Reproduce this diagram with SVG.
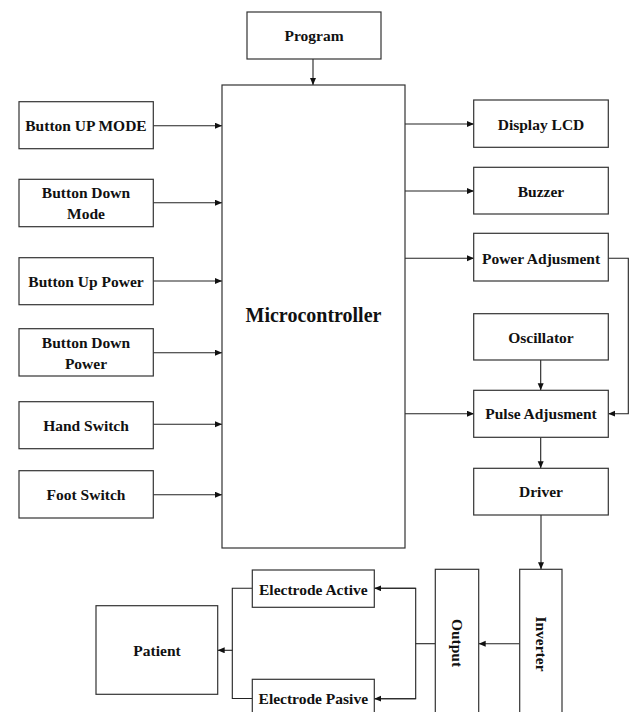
<svg xmlns="http://www.w3.org/2000/svg" width="632" height="712" viewBox="0 0 632 712">
<defs>
<marker id="ah" markerUnits="userSpaceOnUse" markerWidth="8" markerHeight="8" refX="7" refY="3" orient="auto">
<path d="M0,0 L7,3 L0,6 z" fill="#111"/>
</marker>
<style>
rect{fill:#fff;stroke:#333;stroke-width:1.2}
text{font-family:"Liberation Serif","Times New Roman",serif;font-weight:bold;font-size:15.5px;fill:#111;text-anchor:middle}
.big{font-size:20px}
#connectors path,#connectors line{fill:none;stroke:#222;stroke-width:1.1}
.a{marker-end:url(#ah)}
</style>
</defs>
<rect x="0" y="0" width="632" height="712" style="fill:#fff;stroke:none"/>
<g id="connectors">
<line class="a" x1="313" y1="59" x2="313" y2="85"/>
<line class="a" x1="153" y1="125.7" x2="222" y2="125.7"/>
<line class="a" x1="153" y1="202.7" x2="222" y2="202.7"/>
<line class="a" x1="153" y1="281" x2="222" y2="281"/>
<line class="a" x1="153" y1="352.7" x2="222" y2="352.7"/>
<line class="a" x1="153" y1="424.3" x2="222" y2="424.3"/>
<line class="a" x1="153" y1="494.7" x2="222" y2="494.7"/>
<line class="a" x1="405" y1="124" x2="474" y2="124"/>
<line class="a" x1="405" y1="191" x2="474" y2="191"/>
<line class="a" x1="405" y1="258.3" x2="474" y2="258.3"/>
<line class="a" x1="405" y1="413.7" x2="474" y2="413.7"/>
<path class="a" d="M608.3,258.3 H628.3 V413.7 H608.3"/>
<line class="a" x1="540.7" y1="360" x2="540.7" y2="390.3"/>
<line class="a" x1="540.7" y1="437.3" x2="540.7" y2="468.3"/>
<line class="a" x1="541" y1="515" x2="541" y2="569.3"/>
<line class="a" x1="519.5" y1="643.7" x2="478.7" y2="643.7"/>
<line x1="435.3" y1="643.7" x2="415.7" y2="643.7"/>
<path d="M374.3,588.3 H415.7 V698.7 H374.3"/>
<line class="a" x1="415.7" y1="588.3" x2="374.3" y2="588.3"/>
<line class="a" x1="415.7" y1="698.7" x2="374.3" y2="698.7"/>
<path d="M252.3,588.3 H232.3 V698.5 H252.3"/>
<line class="a" x1="232.3" y1="650.3" x2="217.7" y2="650.3"/>
</g>
<g id="program"><rect x="247" y="12" width="134" height="47"/><text x="314" y="41">Program</text></g>
<g id="microcontroller"><rect x="222" y="85" width="183" height="463"/><text class="big" x="313.5" y="322">Microcontroller</text></g>
<g id="btn-up-mode"><rect x="19" y="101.7" width="134.3" height="47"/><text x="86" y="131">Button UP MODE</text></g>
<g id="btn-down-mode"><rect x="19" y="179.3" width="134.3" height="47.4"/><text x="86" y="198">Button Down</text><text x="86" y="219">Mode</text></g>
<g id="btn-up-power"><rect x="19" y="257.7" width="134.3" height="47"/><text x="86" y="286.5">Button Up Power</text></g>
<g id="btn-down-power"><rect x="19" y="328.7" width="134.3" height="47.3"/><text x="86" y="348.3">Button Down</text><text x="86" y="368.5">Power</text></g>
<g id="hand-switch"><rect x="19" y="401.7" width="134.3" height="47"/><text x="86" y="430.5">Hand Switch</text></g>
<g id="foot-switch"><rect x="19" y="470.7" width="134.3" height="47.3"/><text x="86" y="500">Foot Switch</text></g>
<g id="display-lcd"><rect x="473.7" y="100" width="134.6" height="47.3"/><text x="541" y="129.5">Display LCD</text></g>
<g id="buzzer"><rect x="473.7" y="167.3" width="134.6" height="46.7"/><text x="541" y="196.5">Buzzer</text></g>
<g id="power-adj"><rect x="473.7" y="233.3" width="134.6" height="47.7"/><text x="541" y="263.5">Power Adjusment</text></g>
<g id="oscillator"><rect x="473.7" y="313.7" width="134.6" height="46.3"/><text x="541" y="342.5">Oscillator</text></g>
<g id="pulse-adj"><rect x="473.7" y="390.3" width="134.6" height="47"/><text x="541" y="419">Pulse Adjusment</text></g>
<g id="driver"><rect x="473.7" y="468.3" width="134.6" height="46.7"/><text x="541" y="497">Driver</text></g>
<g id="inverter"><rect x="519.7" y="569.3" width="42.3" height="150"/><text x="541" y="644" transform="rotate(90 541 644)" dy="5.5">Inverter</text></g>
<g id="output"><rect x="435.3" y="569.3" width="43.4" height="150"/><text x="457" y="643" transform="rotate(90 457 643)" dy="5.5">Output</text></g>
<g id="electrode-active"><rect x="252.3" y="570" width="122" height="37.3"/><text x="313.3" y="594.5">Electrode Active</text></g>
<g id="electrode-pasive"><rect x="252.3" y="679.3" width="122" height="40"/><text x="313.3" y="704">Electrode Pasive</text></g>
<g id="patient"><rect x="96" y="605.7" width="121.7" height="88.6"/><text x="157" y="656">Patient</text></g>
</svg>
